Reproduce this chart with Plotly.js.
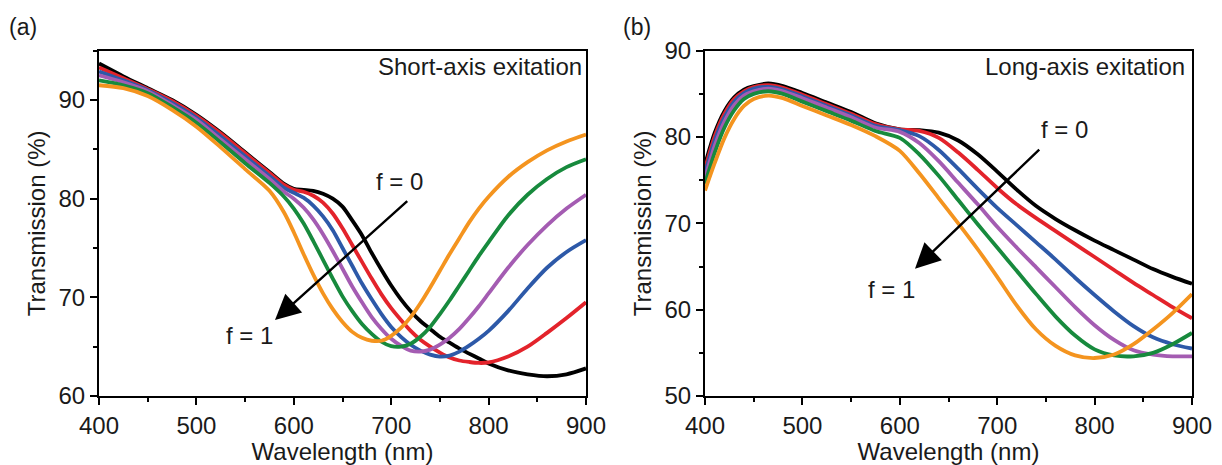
<!DOCTYPE html>
<html>
<head>
<meta charset="utf-8">
<script src="https://cdn.plot.ly/plotly-3.0.1.min.js"></script>
<style>html,body{margin:0;padding:0;background:#fff;}#chart{width:1222px;height:465px;}</style>
</head>
<body>
<div id="chart"></div>
<script>
// ---------- data (a) short-axis excitation ----------
const lamA = [400,425,450,475,500,525,550,575,590,600,610,620,630,640,650,660,670,680,690,700,710,720,730,740,750,760,770,780,790,800,820,840,860,880,900];
const shortF0   = [93.7,92.4,91.2,90.0,88.5,86.7,84.7,82.7,81.5,81.0,80.9,80.8,80.5,80.0,79.2,77.8,76.3,74.5,72.8,71.2,69.8,68.6,67.6,66.8,66.0,65.4,64.8,64.3,63.8,63.3,62.6,62.2,62.0,62.2,62.8];
const shortF02  = [93.3,92.2,91.1,89.9,88.4,86.6,84.6,82.6,81.4,80.9,80.7,80.3,79.6,78.5,77.0,75.3,73.6,71.9,70.3,68.9,67.7,66.6,65.7,65.0,64.4,63.9,63.6,63.45,63.35,63.4,64.0,65.0,66.4,67.9,69.5];
const shortF04  = [92.9,92.0,91.0,89.7,88.2,86.3,84.3,82.3,81.1,80.6,80.1,79.3,78.2,76.8,75.0,73.2,71.4,69.8,68.3,67.0,66.0,65.2,64.6,64.2,64.0,64.1,64.5,65.1,65.8,66.6,68.6,70.9,73.0,74.6,75.8];
const shortF06  = [92.5,91.8,90.9,89.5,88.0,86.0,84.0,82.0,80.7,80.0,79.1,77.9,76.4,74.7,72.9,71.1,69.5,68.0,66.8,65.8,65.1,64.6,64.5,64.7,65.2,65.9,66.8,67.9,69.1,70.4,73.0,75.3,77.3,79.0,80.4];
const shortF08  = [92.0,91.5,90.7,89.3,87.7,85.7,83.6,81.6,80.2,79.0,77.5,75.7,73.8,71.9,70.1,68.6,67.3,66.3,65.5,65.05,65.0,65.3,66.0,67.0,68.3,69.7,71.2,72.7,74.2,75.6,78.3,80.4,82.0,83.2,84.0];
const shortF10  = [91.5,91.2,90.4,89.0,87.3,85.2,83.0,80.8,78.6,76.6,74.4,72.3,70.4,68.8,67.5,66.5,65.9,65.6,65.6,66.1,66.9,68.0,69.4,71.0,72.7,74.4,76.0,77.6,79.0,80.2,82.2,83.7,84.9,85.8,86.5];

// ---------- data (b) long-axis excitation ----------
const lamB = [400,410,420,430,440,450,465,480,500,525,550,575,600,620,640,660,680,700,720,740,760,780,800,820,840,860,880,900];
const longF0   = [76.8,80.5,83.0,84.6,85.5,85.9,86.2,85.9,85.1,84.0,82.9,81.6,80.9,80.8,80.5,79.6,78.0,76.0,73.9,72.0,70.5,69.2,68.0,66.9,65.8,64.7,63.8,63.0];
const longF02  = [76.3,80.1,82.7,84.4,85.3,85.8,86.0,85.7,84.9,83.8,82.7,81.5,80.9,80.7,79.9,78.2,76.2,74.1,72.2,70.6,69.1,67.6,66.1,64.6,63.1,61.7,60.3,59.0];
const longF04  = [75.8,79.6,82.3,84.1,85.1,85.6,85.8,85.5,84.7,83.6,82.5,81.3,80.8,80.1,78.5,76.3,74.0,71.8,69.8,67.8,65.8,63.7,61.7,59.8,58.1,56.8,56.0,55.5];
const longF06  = [75.2,79.0,81.8,83.7,84.8,85.3,85.6,85.3,84.5,83.4,82.3,81.1,80.6,79.3,77.2,74.7,72.2,69.6,67.2,64.9,62.6,60.3,58.2,56.5,55.3,54.8,54.6,54.6];
const longF08  = [74.6,78.2,81.1,83.1,84.4,85.0,85.3,85.0,84.1,83.0,81.9,80.7,79.9,78.0,75.5,72.7,69.9,67.2,64.5,61.8,59.2,57.0,55.4,54.7,54.6,55.0,56.0,57.3];
const longF10  = [73.8,77.0,79.9,82.1,83.6,84.4,84.8,84.5,83.6,82.5,81.4,80.1,78.4,75.8,72.9,70.0,67.0,63.8,60.5,57.7,55.8,54.7,54.4,54.8,56.0,57.7,59.6,61.8];

const seriesNames = ['f = 0','f = 0.2','f = 0.4','f = 0.6','f = 0.8','f = 1'];
const seriesColors = ['#000000','#e3232b','#2d59a8','#a45cb2','#178a3d','#f4941f'];
const shortSeries = [shortF0, shortF02, shortF04, shortF06, shortF08, shortF10];
const longSeries  = [longF0, longF02, longF04, longF06, longF08, longF10];

const FONT = 'Arial, "Liberation Sans", Helvetica, sans-serif';
const traces = [];
shortSeries.forEach((ys, i) => traces.push({
  x: lamA, y: ys, type: 'scatter', mode: 'lines', name: seriesNames[i],
  line: {color: seriesColors[i], width: 3.8, shape: 'spline', smoothing: 0.8},
  xaxis: 'x', yaxis: 'y', showlegend: false, hoverinfo: 'skip'
}));
longSeries.forEach((ys, i) => traces.push({
  x: lamB, y: ys, type: 'scatter', mode: 'lines', name: seriesNames[i],
  line: {color: seriesColors[i], width: 3.8, shape: 'spline', smoothing: 0.8},
  xaxis: 'x2', yaxis: 'y2', showlegend: false, hoverinfo: 'skip'
}));

const tickF = {family: FONT, size: 24, color: '#1a1a1a'};
function xAxis(domain, anchor) {
  return {
    domain: domain, anchor: anchor, range: [400, 900], dtick: 100, tick0: 400,
    showline: true, linecolor: '#000', linewidth: 2, mirror: true,
    ticks: 'outside', ticklen: 7, tickwidth: 2, tickcolor: '#000',
    minor: {ticks: 'outside', dtick: 50, ticklen: 4, tickwidth: 2, tickcolor: '#000'},
    showgrid: false, zeroline: false,
    tickfont: tickF,
    title: {text: 'Wavelength (nm)', font: tickF, standoff: 2},
    automargin: false
  };
}
function yAxis(domain, anchor, range) {
  return {
    domain: domain, anchor: anchor, range: range, dtick: 10,
    showline: true, linecolor: '#000', linewidth: 2, mirror: true,
    ticks: 'outside', ticklen: 7, tickwidth: 2, tickcolor: '#000',
    minor: {ticks: 'outside', dtick: 5, ticklen: 4, tickwidth: 2, tickcolor: '#000'},
    showgrid: false, zeroline: false,
    tickfont: tickF,
    title: {text: 'Transmission (%)', font: tickF, standoff: 6},
    automargin: false
  };
}

const ydom = [69/465, 414.3/465];
const txtFont = {family: FONT, size: 24, color: '#1a1a1a'};
const layout = {
  width: 1222, height: 465,
  margin: {l: 0, r: 0, t: 0, b: 0},
  paper_bgcolor: '#fff', plot_bgcolor: '#fff',
  showlegend: false,
  xaxis: xAxis([99/1222, 586/1222], 'y'),
  yaxis: yAxis(ydom, 'x', [60, 95]),
  xaxis2: xAxis([705/1222, 1192/1222], 'y2'),
  yaxis2: yAxis(ydom, 'x2', [50, 90]),
  annotations: [
    {text: '(a)', xref: 'paper', yref: 'paper', x: 7/1222, y: 1 - 27/465, xanchor: 'left', yanchor: 'middle', showarrow: false, font: {family: FONT, size: 23, color: '#1a1a1a'}},
    {text: '(b)', xref: 'paper', yref: 'paper', x: 621/1222, y: 1 - 27/465, xanchor: 'left', yanchor: 'middle', showarrow: false, font: {family: FONT, size: 23, color: '#1a1a1a'}},
    {text: 'Short-axis exitation', xref: 'x domain', yref: 'y domain', x: 1, y: 0.953, xanchor: 'right', yanchor: 'middle', xshift: -2, showarrow: false, font: txtFont},
    {text: 'Long-axis exitation', xref: 'x2 domain', yref: 'y2 domain', x: 1, y: 0.953, xanchor: 'right', yanchor: 'middle', xshift: -5, showarrow: false, font: txtFont},
    {text: 'f = 0', xref: 'x', yref: 'y', x: 709, y: 81.7, showarrow: false, font: txtFont},
    {text: 'f = 1', xref: 'x', yref: 'y', x: 555, y: 66.1, showarrow: false, font: txtFont},
    {text: 'f = 0', xref: 'x2', yref: 'y2', x: 769.6, y: 80.9, showarrow: false, font: txtFont},
    {text: 'f = 1', xref: 'x2', yref: 'y2', x: 591, y: 62.3, showarrow: false, font: txtFont},
    {text: '', xref: 'x', yref: 'y', axref: 'x', ayref: 'y', x: 580.7, y: 67.7, ax: 718, ay: 79.9, showarrow: true, arrowhead: 2, arrowsize: 2.1, arrowwidth: 2.4, arrowcolor: '#000'},
    {text: '', xref: 'x2', yref: 'y2', axref: 'x2', ayref: 'y2', x: 615.6, y: 64.75, ax: 744.7, ay: 78.7, showarrow: true, arrowhead: 2, arrowsize: 2.1, arrowwidth: 2.4, arrowcolor: '#000'}
  ]
};

Plotly.newPlot('chart', traces, layout, {staticPlot: true, displayModeBar: false});
</script>
</body>
</html>
